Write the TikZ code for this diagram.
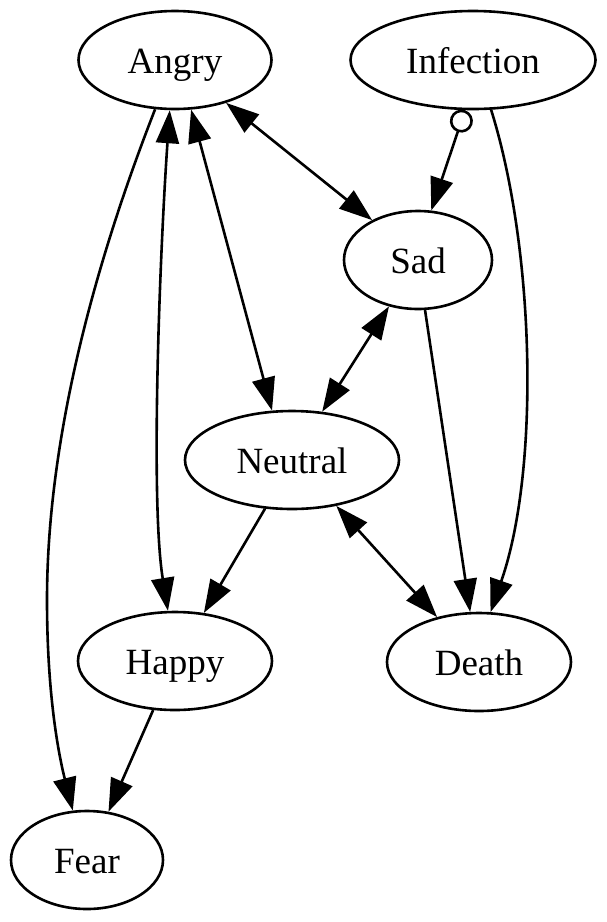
\documentclass[tikz,border=0pt]{standalone}
\usepackage{fontspec}
\setmainfont{Liberation Serif}
\usetikzlibrary{arrows.meta,shapes.geometric}
\begin{document}
\begin{tikzpicture}[x=1pt,y=-1pt,
  state/.style={ellipse,draw,line width=2.6pt,inner sep=0pt,minimum height=98pt,text height=27pt,text depth=0pt,font=\fontsize{37}{44}\selectfont},
  edge/.style={line width=2.6pt},
  >={Triangle[length=33pt,width=23pt]},
  odot/.tip={Circle[open,length=23pt,width=23pt]}]
\useasboundingbox (0,0) rectangle (607,922);
\node[state,minimum width=193pt] (Angry) at (175,60) {Angry};
\node[state,minimum width=245pt] (Infection) at (473,60) {Infection};
\node[state,minimum width=148pt] (Sad) at (418,260) {Sad};
\node[state,minimum width=214pt] (Neutral) at (292,460) {Neutral};
\node[state,minimum width=194pt] (Happy) at (175,661) {Happy};
\node[state,minimum width=184pt] (Death) at (479,662) {Death};
\node[state,minimum width=152pt] (Fear) at (87,860) {Fear};
\coordinate (fbend) at (47,600);
\draw[edge,<->] (Angry.-40) -- (Sad.139);
\draw[edge,odot->] (Infection.-99) -- (Sad.75);
\draw[edge,->] (Infection.-70) .. controls (535,250) and (540,470) .. (Death.77);
\draw[edge,->] (Angry.248) .. controls (100,250) and (47,430) .. (fbend) .. controls (47,700) and (60,760) .. (Fear.106);
\draw[edge,<->] (Angry.264) .. controls (160,250) and (150,500) .. (Happy.98);
\draw[edge,<->] (Angry.-72.6) -- (Neutral.112.6);
\draw[edge,<->] (Sad.238) -- (Neutral.58);
\draw[edge,->] (Sad.-82) -- (Death.100);
\draw[edge,->] (Neutral.241) -- (Happy.59);
\draw[edge,<->] (Neutral.-46) -- (Death.133);
\draw[edge,->] (Happy.-114) -- (Fear.66);
\end{tikzpicture}
\end{document}
